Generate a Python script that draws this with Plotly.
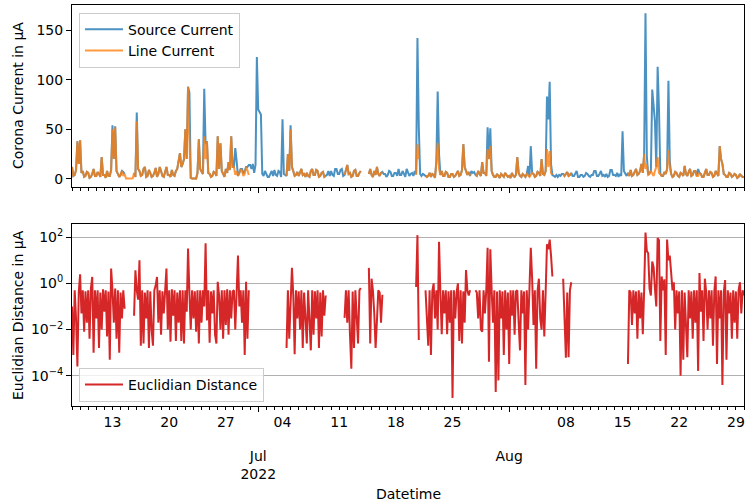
import pandas as pd
import plotly.graph_objects as go

N = None

# ---- time index: every series has one row per day, 6 readings per day (4 h apart) ----
START = "2022-06-08 00:00"
STEP_H = 4

# ---- Source current (µA) ----
source_by_day = [
    [12, 3, 4, 9, 38, 15], [39, 6, 8, 2, 3, 7], [6, 1, 2, 5, 10, 3],          # d0-2
    [3, 7, 5, 2, 22, 4], [4, 1, 8, 3, 3, 9], [54, 20, 53, 8, 5, 2],           # d3-5
    [4, 8, 7, 5, N, N], [N, N, N, N, 6, 2], [67, 10, 8, 3, 4, 10],            # d6-8
    [12, 2, 3, 9, 6, 2], [3, 6, 11, 2, 5, 12], [8, 3, 2, 7, 12, 4],           # d9-11
    [4, 2, 9, 4, 3, 8], [10, 18, 26, 12, 15, 20], [50, 20, 93, 87, 1, 0.5],   # d12-14
    [0.5, 0.4, 0.4, 6, 40, 10], [8, 5, 91, 35, 38, 6], [5, 2, 3, 7, 6, 3],    # d15-17
    [43, 10, 36, 8, 5, 2], [10, 6, 17, 9, 43, 12], [12, 31, 18, 3, 6, 10],    # d18-20
    [10, 5, 8, 12, 12, 14], [14, 10, 15, 6, 14, 123], [70, 68, 65, 5, 3, 8],  # d21-23
    [5, 2, 2, 6, 8, 3], [9, 4, 3, 8, 7, 2], [60, 5, 4, 3, 25, 8],             # d24-26
    [54, 12, 8, 3, 4, 7], [3, 6, 10, 4, 5, 2], [6, 3, 2, 8, 10, 4],           # d27-29
    [4, 9, 8, 2, 3, 6], [7, 2, 3, 4, 8, 3], [8, 4, 3, 10, 10, 5],             # d30-32
    [5, 9, 10, 3, 4, 9], [14, 5, 6, 2, 3, 8], [9, 3, 3, 6, 8, N],             # d33-35
    [N, N, N, N, 5, 10], [4, 2, 8, 4, 12, 5], [3, 6, 7, 5, 5, 2],             # d36-38
    [4, 8, 7, 3, 3, 6], [6, 3, 10, 4, 4, 8], [5, 2, 10, 6, 3, 5],             # d39-41
    [6, 3, 8, 5, 142, 52], [5, 3, 5, 4, 3, 2], [3, 6, 2, 5, 4, 1],            # d42-44
    [17, 88, 25, 4, 8, 3], [3, 7, 6, 2, 2, 5], [5, 2, 3, 6, 8, 3],            # d45-47
    [4, 9, 35, 12, 8, 4], [7, 3, 8, 6, 7, 4], [3, 8, 5, 3, 17, 6],            # d48-50
    [6, 3, 52, 20, 51, 8], [4, 2, 2, 5, 3, 1], [5, 3, 2, 6, 4, 2],            # d51-53
    [3, 1, 6, 3, 2, 4], [22, 6, 3, 2, 5, 3], [2, 5, 13, 2, 33, 6],            # d54-56
    [5, 2, 3, 7, 6, 3], [20, 5, 4, 8, 83, 60], [98, 15, 4, 3, 2, 4],          # d57-59
    [2, 4, 3, 5, 5, 3], [5, 7, 3, 4, 6, 3], [3, 5, 8, 2, 2, 4],               # d60-62
    [4, 2, 3, 6, 5, 3], [2, 4, 4, 8, 8, 3], [3, 5, 8, 3, 4, 2],               # d63-65
    [5, 2, 3, 9, 9, 4], [4, 3, 6, 2, 5, 3], [48, 8, 6, 3, 6, 3],              # d66-68
    [9, 3, 4, 8, 10, 4], [5, 8, 15, 6, 25, 167], [23, 4, 6, 8, 90, 70],       # d69-71
    [58, 12, 113, 70, 5, 3], [3, 7, 5, 10, 99, 18], [5, 2, 3, 7, 6, 3],       # d72-74
    [2, 6, 5, 3, 13, 5], [3, 7, 10, 3, 4, 8], [8, 3, 10, 6, 5, 2],            # d75-77
    [2, 6, 10, 4, 4, 7], [6, 2, 3, 8, 5, 3], [33, 20, 15, 5, 4, 2],           # d78-80
    [2, 6, 5, 2, 3, 5], [4, 1, 2, 5, 3, 2], [2],                              # d81-83
]

# ---- Line current (µA) ----
line_by_day = [
    [12, 3, 4, 9, 38, 15], [39, 6, 8, 2, 3, 7], [6, 1, 2, 5, 10, 3],          # d0-2
    [3, 7, 5, 2, 22, 4], [4, 1, 8, 3, 3, 9], [50, 20, 52, 8, 5, 2],           # d3-5
    [4, 8, 3, 5, 0.5, 0.3], [0.3, 0.4, 0.4, 0.5, 6, 2], [58, 10, 8, 3, 4, 10],  # d6-8
    [12, 2, 3, 9, 6, 2], [3, 6, 11, 2, 5, 12], [8, 3, 2, 7, 12, 4],           # d9-11
    [4, 2, 9, 4, 3, 8], [10, 18, 26, 12, 15, 20], [50, 20, 93, 40, 1, 0.3],   # d12-14
    [0.3, 0.2, 0.2, 6, 40, 10], [8, 5, 43, 20, 38, 6], [5, 2, 3, 7, 6, 3],    # d15-17
    [43, 10, 36, 8, 5, 2], [10, 6, 17, 9, 43, 12], [12, 4, 8, 3, 6, 10],      # d18-20
    [8, 3, 5, 12, 9, 4], [N, N, N, N, N, N], [N, N, N, N, N, N],              # d21-23
    [N, N, N, N, N, N], [N, N, N, N, N, N], [N, N, N, 3, 25, 8],              # d24-26
    [50, 12, 8, 3, 4, 7], [3, 6, 10, 4, 5, 2], [6, 3, 2, 8, 10, 4],           # d27-29
    [4, 9, 8, 2, 3, 6], [7, 2, 3, N, N, N], [N, N, N, N, N, N],               # d30-32
    [N, N, N, N, 4, 9], [14, 5, 6, 2, 3, 8], [9, 3, 3, 6, 8, N],              # d33-35
    [N, N, N, N, 5, 10], [4, 2, 8, 4, 12, 5], [3, 6, 7, N, N, N],             # d36-38
    [N, N, N, N, N, N], [N, N, N, N, N, N], [N, N, N, N, N, N],               # d39-41
    [N, N, N, 4, 35, 20], [N, N, N, N, 3, 2], [3, 6, 2, 5, 4, 1],             # d42-44
    [17, 36, 10, 4, 8, 3], [3, 7, 6, 2, 2, 5], [5, 2, 3, 6, 8, 3],            # d45-47
    [4, 9, 35, 12, 8, 4], [7, 3, N, N, N, 4], [3, 8, 5, 3, 17, 6],            # d48-50
    [6, 3, 30, 20, 33, 8], [4, 2, 2, 5, 3, 1], [5, 3, 2, 6, 4, 2],            # d51-53
    [3, 1, 6, 3, 2, 4], [22, 6, 3, 2, 5, 3], [2, 5, 3, 2, 4, 6],              # d54-56
    [5, 2, 3, 7, 6, 3], [20, 5, 4, 8, 30, 12], [28, 6, 4, N, N, N],           # d57-59
    [N, N, N, N, 5, 3], [5, 7, 3, 4, 6, N], [N, N, N, N, N, N],               # d60-62
    [N, N, N, N, N, N], [N, N, N, N, N, N], [N, N, N, N, N, N],               # d63-65
    [N, N, N, N, N, N], [N, N, N, N, N, N], [N, N, N, N, 6, 3],               # d66-68
    [9, 3, 4, 8, 10, 4], [5, 8, 15, 6, 25, 10], [15, 4, 5, 8, 5, 3],          # d69-71
    [8, 12, 22, 6, 5, 3], [3, 7, 5, 10, 29, 12], [5, 2, 3, 7, 6, 3],          # d72-74
    [2, 6, 5, 3, 13, 5], [3, 7, 10, 3, 4, 8], [8, 3, 3, 6, 5, 2],             # d75-77
    [2, 6, 10, 4, 4, 7], [6, 2, 3, 8, 5, 3], [33, 20, 15, 5, 4, 2],           # d78-80
    [2, 6, 5, 2, 3, 5], [4, 1, 2, 5, 3, 2], [2],                              # d81-83
]

# ---- Euclidian distance (µA) ----
euclid_by_day = [
    [0.1, 0.0008, 0.5, 0.03, 0.00025, 0.4],        # d0
    [2.5, 0.05, 0.5, 0.008, 0.45, 0.02],
    [0.5, 0.004, 0.6, 1.9, 0.001, 0.5],
    [0.03, 0.5, 0.0016, 0.4, 0.01, 0.55],
    [0.06, 0.5, 0.005, 0.45, 0.0005, 4.4],
    [0.5, 0.02, 0.6, 0.004, 0.5, 0.001],           # d5
    [0.4, 0.03, 0.5, 0.08, N, N],
    [N, N, N, N, 0.04, 3.7],
    [0.5, 0.2, 10, 0.002, 0.5, 0.0025],
    [0.4, 0.03, 0.5, 0.0016, 0.45, 0.01],
    [0.002, 0.5, 0.8, 1.9, 0.02, 0.5],             # d10
    [0.006, 0.45, 0.05, 0.5, 4.4, 0.01],
    [0.5, 0.003, 0.55, 0.04, 0.5, 0.0032],
    [0.4, 0.02, 0.5, 0.0032, 0.5, 0.0025],
    [0.5, 0.06, 32, 0.4, 0.01, 0.5],
    [0.03, 0.45, 0.008, 0.5, 0.0025, 0.5],         # d15
    [0.02, 0.5, 0.1, 55, 0.025, 0.5],
    [0.0027, 0.45, 0.05, 0.5, 0.006, 0.0025],
    [1.17, 0.3, 0.01, 0.5, 0.004, 0.5],
    [0.016, 0.55, 0.006, 0.5, 0.03, 0.45],
    [0.5, 0.01, 0.4, 16, 0.1, 0.5],                # d20
    [0.02, 0.5, 0.0008, 1.17, 0.004, 0.5],
    [N, N, N, N, N, N],
    [N, N, N, N, N, N],
    [N, N, N, N, N, N],
    [N, N, N, N, N, N],                            # d25
    [N, N, N, 0.0016, 0.5, 0.004],
    [0.5, 4.7, 0.3, 0.00085, 0.5, 0.03],
    [0.45, 0.01, 0.5, 0.0016, 0.4, 0.05],
    [0.0025, 0.5, 0.02, 0.00126, 0.5, 0.006],
    [0.45, 0.03, 0.5, 0.0016, 0.4, 0.005],         # d30
    [0.5, 0.04, 0.3, N, N, N],
    [N, N, N, N, N, N],
    [N, N, N, N, 0.032, 0.5],
    [0.02, 0.5, 0.006, 0.0002, 0.45, 0.0016],
    [0.5, 0.03, 0.0025, 0.5, 0.63, N],             # d35
    [N, N, N, N, 4.7, 0.0025],
    [1.6, 0.5, 0.05, 0.0016, 0.025, 0.5],
    [0.4, 0.02, 0.32, N, N, N],
    [N, N, N, N, N, N],
    [N, N, N, N, N, N],                            # d40
    [N, N, N, N, N, N],
    [N, N, N, 0.7, 123, 0.0035],
    [N, N, N, N, 0.5, 0.04],
    [0.002, 0.5, 0.0008, 0.45, 1.0, 0.03],
    [0.5, 0.01, 63, 0.4, 0.0063, 0.5],             # d45
    [0.05, 0.5, 0.0063, 0.45, 0.02, 0.5],
    [1.1e-5, 0.5, 0.03, 0.4, 1.0, 0.0032],
    [0.5, 0.0025, 0.45, 0.02, 3.8, 0.5],
    [0.3, 0.5, N, N, N, 0.5],
    [0.4, 0.03, 0.5, 0.01, 0.008, 0.5],            # d50
    [0.05, 0.5, 35, 0.0004, 30, 0.5],
    [0.02, 0.5, 2e-5, 0.45, 6.3e-5, 0.5],
    [0.03, 0.45, 0.0008, 0.5, 0.01, 0.4],
    [0.00032, 0.5, 0.04, 0.5, 0.006, 0.45],
    [0.5, 0.02, 0.00126, 0.5, 0.05, 0.45],         # d55
    [4e-5, 0.5, 0.01, 0.6, 35, 1.6],
    [0.016, 0.5, 0.0002, 0.45, 1.6, 0.03],
    [0.01, 0.5, 0.005, 0.4, 50, 30],
    [79, 16, 2, N, N, N],
    [N, N, N, N, 1.6, 0.03],                       # d60
    [0.0006, 0.4, 0.00063, 0.5, 1.12, N],
    [N, N, N, N, N, N],
    [N, N, N, N, N, N],
    [N, N, N, N, N, N],
    [N, N, N, N, N, N],                            # d65
    [N, N, N, N, N, N],
    [N, N, N, N, N, N],
    [N, N, N, N, 0.00032, 0.5],
    [0.4, 0.016, 0.5, 0.05, 0.45, 0.004],
    [0.5, 0.03, 0.4, 0.0063, 0.5, 158],            # d70
    [25, 20, 0.6, 0.3, 8.9, 5],
    [0.6, 0.1, 93, 74, 0.0032, 2],
    [0.5, 1.5, 0.0008, 79, 10, 16],
    [3, 0.5, 1.12, 0.01, 0.5, 0.05],
    [0.45, 0.0001, 0.5, 0.0005, 0.4, 0.02],        # d75
    [0.00063, 0.5, 0.03, 0.45, 0.004, 0.5],
    [0.02, 0.5, 0.00016, 2.8, 0.06, 0.5],
    [0.0032, 1.6, 0.4, 0.01, 0.5, 0.03],
    [0.5, 0.002, 0.45, 2.0, 0.00032, 0.5],
    [0.03, 0.5, 4e-5, 0.4, 1.4, 0.0005],           # d80
    [0.5, 0.05, 0.4, 0.004, 0.5, 0.02],
    [0.45, 0.004, 0.5, 1.12, 0.05, 0.5],
    [0.3],                                         # d83
]

# ---- tick labels ----
week_ticks = ["2022-06-13", "2022-06-20", "2022-06-27", "2022-07-04", "2022-07-11",
              "2022-07-18", "2022-07-25", "2022-08-08", "2022-08-15", "2022-08-22",
              "2022-08-29"]
week_labels = ["13", "20", "27", "04", "11", "18", "25", "08", "15", "22", "29"]
month_ticks = ["2022-07-01", "2022-08-01"]
month_labels = ["Jul<br>2022", "Aug"]
current_ticks = [0, 50, 100, 150]
log_ticks = [1e-4, 1e-2, 1, 1e2]
log_labels = ["10<sup>\u22124</sup>", "10<sup>\u22122</sup>", "10<sup>0</sup>", "10<sup>2</sup>"]

BLUE = "#1f77b4"
ORANGE = "#ff7f0e"
RED = "#d62728"
FONT = "DejaVu Sans"

start = pd.Timestamp(START)


def day_rows_to_series(rows):
    xs, ys = [], []
    for d, row in enumerate(rows):
        for k, v in enumerate(row):
            xs.append(start + pd.Timedelta(days=d, hours=k * STEP_H))
            ys.append(v)
    return xs, ys


s_times, s_values = day_rows_to_series(source_by_day)
l_times, l_values = day_rows_to_series(line_by_day)
e_times, e_values = day_rows_to_series(euclid_by_day)
xrange = [s_times[0], s_times[-1]]

fig = go.Figure()
fig.add_trace(go.Scatter(x=s_times, y=s_values, name="Source Current", mode="lines",
                         line=dict(color=BLUE, width=2), opacity=0.8,
                         xaxis="x", yaxis="y", legend="legend"))
fig.add_trace(go.Scatter(x=l_times, y=l_values, name="Line Current", mode="lines",
                         line=dict(color=ORANGE, width=2), opacity=0.8,
                         xaxis="x", yaxis="y", legend="legend"))
fig.add_trace(go.Scatter(x=e_times, y=e_values, name="Euclidian Distance", mode="lines",
                         line=dict(color=RED, width=2),
                         xaxis="x2", yaxis="y2", legend="legend2"))
# carrier for the month-label axis
fig.add_trace(go.Scatter(x=xrange, y=[None, None], mode="lines",
                         showlegend=False, hoverinfo="skip", xaxis="x3", yaxis="y2"))

minor_days = dict(ticks="outside", ticklen=3, tickwidth=1, tickcolor="black",
                  tickmode="linear", tick0=START, dtick=86400000, showgrid=False)
frame = dict(showline=True, linecolor="black", linewidth=1, mirror=True, automargin=False)

fig.update_layout(
    width=746, height=504,
    margin=dict(l=72, r=2, t=5, b=98, autoexpand=False),
    paper_bgcolor="white", plot_bgcolor="white",
    font=dict(family=FONT, size=14, color="black"),
    showlegend=True,
    xaxis=dict(domain=[0, 1], anchor="y", range=xrange, **frame,
               ticks="outside", ticklen=5, tickwidth=1, tickcolor="black",
               tickmode="array", tickvals=month_ticks, showticklabels=False,
               showgrid=False, zeroline=False, minor=minor_days),
    xaxis2=dict(domain=[0, 1], anchor="y2", range=xrange, **frame,
                ticks="outside", ticklen=3, tickwidth=1, tickcolor="black",
                tickmode="array", tickvals=week_ticks, ticktext=week_labels,
                tickfont=dict(size=14), showgrid=False, zeroline=False, minor=minor_days),
    xaxis3=dict(overlaying="x2", anchor="y2", side="bottom", range=xrange,
                showline=False, automargin=False,
                ticks="outside", ticklen=5, tickwidth=1, tickcolor="black",
                tickmode="array", tickvals=month_ticks, ticktext=month_labels,
                tickfont=dict(size=14), ticklabelstandoff=32,
                showgrid=False, zeroline=False),
    yaxis=dict(domain=[0.5457, 1], anchor="x", range=[-8.35, 175.35], **frame,
               ticks="outside", ticklen=5, tickwidth=1, tickcolor="black",
               tickmode="array", tickvals=current_ticks, showgrid=False, zeroline=False),
    yaxis2=dict(domain=[0, 0.4543], anchor="x2", type="log", range=[-5.31, 2.58], **frame,
                ticks="outside", ticklen=5, tickwidth=1, tickcolor="black",
                tickmode="array", tickvals=log_ticks, ticktext=log_labels,
                showgrid=True, gridcolor="#b0b0b0", gridwidth=1, zeroline=False),
    legend=dict(x=0.0104, y=0.981, xanchor="left", yanchor="top", itemwidth=38,
                bordercolor="#cccccc", borderwidth=1, bgcolor="rgba(255,255,255,0.8)",
                font=dict(size=14)),
    legend2=dict(x=0.0104, y=0.095, xanchor="left", yanchor="top", itemwidth=38,
                 bordercolor="#cccccc", borderwidth=1, bgcolor="rgba(255,255,255,0.8)",
                 font=dict(size=14)),
    annotations=[
        dict(text="Corona Current in \u00b5A", xref="paper", yref="paper",
             x=-0.0803, y=0.773, xanchor="center", yanchor="middle",
             textangle=-90, showarrow=False, font=dict(size=14)),
        dict(text="Euclidian Distance in \u00b5A", xref="paper", yref="paper",
             x=-0.0803, y=0.227, xanchor="center", yanchor="middle",
             textangle=-90, showarrow=False, font=dict(size=14)),
        dict(text="Datetime", xref="paper", yref="paper",
             x=0.5, y=-0.2195, xanchor="center", yanchor="middle",
             showarrow=False, font=dict(size=14)),
    ],
)

fig.write_html("out.html", config={"displayModeBar": False},
               post_script="document.body.style.margin='0';document.body.style.padding='0';")
